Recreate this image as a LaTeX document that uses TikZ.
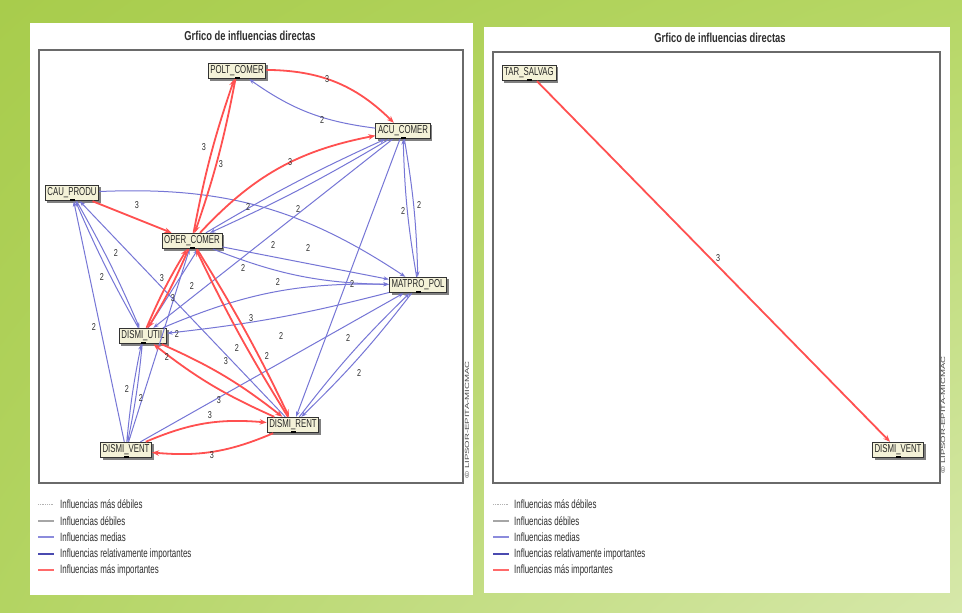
\documentclass[tikz,border=0pt]{standalone}
\usepackage{fontspec}
\setmainfont{Liberation Sans}
\usepackage{graphicx}
\usetikzlibrary{arrows.meta,shadows,shadings}
\definecolor{bgUL}{HTML}{A8CC4C}
\definecolor{bgUR}{HTML}{B6D765}
\definecolor{bgLL}{HTML}{B3D462}
\definecolor{bgLR}{HTML}{D6E8AA}
\definecolor{redE}{HTML}{FF5050}
\definecolor{blueE}{HTML}{7676D6}
\definecolor{blueD}{HTML}{4A4AB0}
\definecolor{nodeF}{HTML}{F4F2D8}
\definecolor{frameC}{HTML}{6A6A6A}
\definecolor{txtC}{HTML}{2E2E2E}
\newcommand\nt[1]{\scalebox{0.68}[1]{#1}}
\newcommand\lt[1]{\scalebox{0.72}[1]{#1}}
\newcommand\gt[1]{\scalebox{0.66}[1]{#1}}
\newcommand\ttlsc[1]{\scalebox{0.72}[1]{#1}}
\begin{document}
\begin{tikzpicture}[x=1pt,y=-1pt,
  var/.style={draw=black!80, line width=0.9pt, fill=nodeF, inner sep=2.2pt,
    minimum height=15.5pt, font=\fontsize{11.5}{12}\selectfont, text=black!85,
    drop shadow={shadow xshift=2.2pt, shadow yshift=-2.2pt, fill=black!50, opacity=1}},
  strong/.style={draw=redE, line width=1.8pt, -{Stealth[length=7pt,width=5.5pt]}},
  med/.style={draw=blueE, line width=1pt, -{Stealth[length=5.5pt,width=4pt]}},
  lab/.style={font=\fontsize{10}{10}\selectfont, text=txtC, inner sep=0pt},
  legtxt/.style={font=\fontsize{12}{12}\selectfont, text=txtC, anchor=west, inner sep=0pt},
  ttl/.style={font=\bfseries\fontsize{13}{14}\selectfont, text=txtC, inner sep=0pt},
  frm/.style={draw=frameC, line width=1.4pt},
  cpy/.style={font=\fontsize{6}{6}\selectfont, text=black!70, rotate=90, inner sep=0pt}
]
\useasboundingbox (0,0) rectangle (962,613);
\shade[upper left=bgUL, upper right=bgUR, lower left=bgLL, lower right=bgLR] (0,0) rectangle (962,613);
% panels
\fill[white] (30,23) rectangle (473,595);
\fill[white] (484,27) rectangle (950,593);
\draw[frm] (39,50) rectangle (463,483);
\draw[frm] (493,52) rectangle (940,483);
\node[ttl] (t1) at (250,36) {\ttlsc{Grfico de influencias directas}};
\node[ttl] (t2) at (720,38) {\ttlsc{Grfico de influencias directas}};
\node[cpy] (c1) at (467,420) {\scalebox{1.6}[1]{\copyright\ LIPSOR-EPITA-MICMAC}};
\node[cpy] (c2) at (943,415) {\scalebox{1.6}[1]{\copyright\ LIPSOR-EPITA-MICMAC}};

% nodes left
\node[var] (polt) at (237,71) {\nt{POLT\_COMER}};
\node[var] (acu) at (403,131) {\nt{ACU\_COMER}};
\node[var] (cau) at (72,193) {\nt{CAU\_PRODU}};
\node[var] (oper) at (192,241) {\nt{OPER\_COMER}};
\node[var] (matpro) at (418,285) {\nt{MATPRO\_POL}};
\node[var] (util) at (143,336) {\nt{DISMI\_UTIL}};
\node[var] (rent) at (293,425) {\nt{DISMI\_RENT}};
\node[var] (vent) at (126,450) {\nt{DISMI\_VENT}};
% nodes right
\node[var] (tar) at (529,73) {\nt{TAR\_SALVAG}};
\node[var] (vent2) at (898,450) {\nt{DISMI\_VENT}};
\foreach \n in {polt,acu,cau,oper,matpro,util,rent,vent,tar,vent2}
  \fill[black] ([xshift=-2.5pt]\n.south) rectangle ([xshift=2.5pt,yshift=1.8pt]\n.south);

% blue edges
\draw[med] (acu) to[bend left=14] (polt);
\draw[med] (acu) to[bend left=3] (oper);
\draw[med] (oper) to[bend left=3] (acu);
\draw[med] (acu) -- (util);
\draw[med] (acu) -- (rent);
\draw[med] (acu) to[bend left=4] (matpro);
\draw[med] (matpro) to[bend left=4] (acu);
\draw[med] (cau) to[bend left=18] (matpro);
\draw[med] (oper) -- (matpro);
\draw[med] (oper) to[bend right=10] (matpro);
\draw[med] (util) to[bend left=12] (matpro);
\draw[med] (matpro) to[bend left=4] (util);
\draw[med] (vent) -- (matpro);
\draw[med] (matpro) to[bend left=4] (rent);
\draw[med] (rent) to[bend left=4] (matpro);
\draw[med] (vent) -- (cau);
\draw[med] (cau) to[bend left=3] (util);
\draw[med] (util) to[bend left=3] (cau);
\draw[med] (rent) -- (cau);
\draw[med] (vent) to[bend left=3] (util);
\draw[med] (util) to[bend left=3] (vent);
\draw[med] (vent) -- (oper);
\draw[med] (util) -- ([xshift=6pt]oper.south);

% red edges
\draw[strong] (polt) to[bend left=22] (acu);
\draw[strong] (oper) to[bend left=4] (polt);
\draw[strong] (polt) to[bend left=4] (oper);
\draw[strong] (oper) to[bend left=18] (acu);
\draw[strong] (cau) -- (oper);
\draw[strong] (oper) to[bend left=4] (util);
\draw[strong] (util) to[bend left=4] (oper);
\draw[strong] (oper) to[bend left=3] (rent);
\draw[strong] (rent) to[bend left=3] (oper);
\draw[strong] (util) to[bend left=7] (rent);
\draw[strong] (rent) to[bend left=7] (util);
\draw[strong] (vent) to[bend left=14] (rent);
\draw[strong] (rent) to[bend left=14] (vent);
\draw[strong] (tar) -- (vent2);

% labels
\foreach \x/\y/\v [count=\i] in {327/79/3,322/120/2,204/147/3,221/164/3,290/162/3,137/205/3,
  248/207/2,298/209/2,403/211/2,419/205/2,273/245/2,308/248/2,243/268/2,278/282/2,352/284/2,
  116/253/2,102/277/2,162/278/3,192/286/2,173/298/3,94/327/2,251/318/3,281/336/2,177/334/2,
  237/348/2,267/356/2,167/357/2,226/361/3,348/338/2,359/373/2,127/389/2,141/398/2,219/400/3,
  210/415/3,212/455/3,718/258/3}
  \node[lab] (l\i) at (\x,\y) {\lt{\v}};

% legends
\foreach \bx/\tx [count=\j] in {38/60,493/514}{
  \draw[densely dotted, draw=black!30, line width=0.8pt] (\bx,504) -- ++(16,0);
  \draw[draw=black!35, line width=1.8pt] (\bx,521) -- ++(16,0);
  \draw[draw=blueE!85, line width=1.5pt] (\bx,537) -- ++(16,0);
  \draw[draw=blueD, line width=2.2pt] (\bx,554) -- ++(16,0);
  \draw[draw=redE!85, line width=2.2pt] (\bx,570) -- ++(16,0);
  \node[legtxt] (ga\j) at (\tx,504) {\gt{Influencias más débiles}};
  \node[legtxt] (gb\j) at (\tx,521) {\gt{Influencias débiles}};
  \node[legtxt] (gc\j) at (\tx,537) {\gt{Influencias medias}};
  \node[legtxt] (gd\j) at (\tx,554) {\gt{Influencias relativamente importantes}};
  \node[legtxt] (ge\j) at (\tx,570) {\gt{Influencias más importantes}};
}
\end{tikzpicture}
\end{document}
